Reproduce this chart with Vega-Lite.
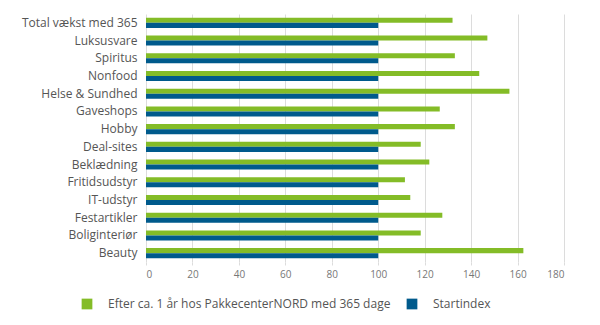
{
  "$schema": "https://vega.github.io/schema/vega-lite/v6.json",
  "width": 418,
  "height": 248,
  "autosize": "none",
  "padding": {"left": 146, "top": 14, "right": 36, "bottom": 63},
  "config": {
    "font": "Open Sans",
    "view": {"stroke": null}
  },
  "data": {
    "values": [
      {"kategori": "Total vækst med 365", "serie": "Efter ca. 1 år hos PakkecenterNORD med 365 dage", "indeks": 132},
      {"kategori": "Total vækst med 365", "serie": "Startindex", "indeks": 100},
      {"kategori": "Luksusvare", "serie": "Efter ca. 1 år hos PakkecenterNORD med 365 dage", "indeks": 147},
      {"kategori": "Luksusvare", "serie": "Startindex", "indeks": 100},
      {"kategori": "Spiritus", "serie": "Efter ca. 1 år hos PakkecenterNORD med 365 dage", "indeks": 133},
      {"kategori": "Spiritus", "serie": "Startindex", "indeks": 100},
      {"kategori": "Nonfood", "serie": "Efter ca. 1 år hos PakkecenterNORD med 365 dage", "indeks": 143.5},
      {"kategori": "Nonfood", "serie": "Startindex", "indeks": 100},
      {"kategori": "Helse & Sundhed", "serie": "Efter ca. 1 år hos PakkecenterNORD med 365 dage", "indeks": 156.5},
      {"kategori": "Helse & Sundhed", "serie": "Startindex", "indeks": 100},
      {"kategori": "Gaveshops", "serie": "Efter ca. 1 år hos PakkecenterNORD med 365 dage", "indeks": 126.5},
      {"kategori": "Gaveshops", "serie": "Startindex", "indeks": 100},
      {"kategori": "Hobby", "serie": "Efter ca. 1 år hos PakkecenterNORD med 365 dage", "indeks": 133},
      {"kategori": "Hobby", "serie": "Startindex", "indeks": 100},
      {"kategori": "Deal-sites", "serie": "Efter ca. 1 år hos PakkecenterNORD med 365 dage", "indeks": 118.3},
      {"kategori": "Deal-sites", "serie": "Startindex", "indeks": 100},
      {"kategori": "Beklædning", "serie": "Efter ca. 1 år hos PakkecenterNORD med 365 dage", "indeks": 122},
      {"kategori": "Beklædning", "serie": "Startindex", "indeks": 100},
      {"kategori": "Fritidsudstyr", "serie": "Efter ca. 1 år hos PakkecenterNORD med 365 dage", "indeks": 111.5},
      {"kategori": "Fritidsudstyr", "serie": "Startindex", "indeks": 100},
      {"kategori": "IT-udstyr", "serie": "Efter ca. 1 år hos PakkecenterNORD med 365 dage", "indeks": 113.8},
      {"kategori": "IT-udstyr", "serie": "Startindex", "indeks": 100},
      {"kategori": "Festartikler", "serie": "Efter ca. 1 år hos PakkecenterNORD med 365 dage", "indeks": 127.6},
      {"kategori": "Festartikler", "serie": "Startindex", "indeks": 100},
      {"kategori": "Boliginteriør", "serie": "Efter ca. 1 år hos PakkecenterNORD med 365 dage", "indeks": 118.3},
      {"kategori": "Boliginteriør", "serie": "Startindex", "indeks": 100},
      {"kategori": "Beauty", "serie": "Efter ca. 1 år hos PakkecenterNORD med 365 dage", "indeks": 162.5},
      {"kategori": "Beauty", "serie": "Startindex", "indeks": 100}
    ]
  },
  "mark": {"type": "bar"},
  "encoding": {
    "y": {
      "field": "kategori",
      "type": "nominal",
      "sort": null,
      "scale": {"paddingInner": 0.43, "paddingOuter": 0.215},
      "axis": {
        "title": null,
        "ticks": false,
        "domain": false,
        "labelPadding": 9,
        "labelFontSize": 12,
        "labelColor": "#555555"
      }
    },
    "yOffset": {
      "field": "serie",
      "type": "nominal",
      "scale": {"domain": ["Efter ca. 1 år hos PakkecenterNORD med 365 dage", "Startindex"], "paddingInner": 0, "paddingOuter": 0}
    },
    "x": {
      "field": "indeks",
      "type": "quantitative",
      "scale": {"domain": [0, 180], "nice": false},
      "axis": {
        "title": null,
        "values": [0, 20, 40, 60, 80, 100, 120, 140, 160, 180],
        "grid": true,
        "gridColor": "#dcdcdc",
        "domain": false,
        "ticks": true,
        "tickColor": "#dcdcdc",
        "tickSize": 3,
        "labelPadding": 4,
        "labelFontSize": 10,
        "labelColor": "#777777"
      }
    },
    "color": {
      "field": "serie",
      "type": "nominal",
      "scale": {
        "domain": ["Efter ca. 1 år hos PakkecenterNORD med 365 dage", "Startindex"],
        "range": ["#84bc27", "#005a8c"]
      },
      "legend": {
        "title": null,
        "orient": "none",
        "direction": "horizontal",
        "legendX": -65,
        "legendY": 284,
        "symbolType": "square",
        "symbolSize": 115,
        "symbolStrokeWidth": 0,
        "symbolOpacity": 1,
        "labelFontSize": 12,
        "labelColor": "#555555",
        "labelOffset": 15,
        "columnPadding": 15,
        "labelLimit": 400,
        "padding": 0
      }
    }
  }
}
